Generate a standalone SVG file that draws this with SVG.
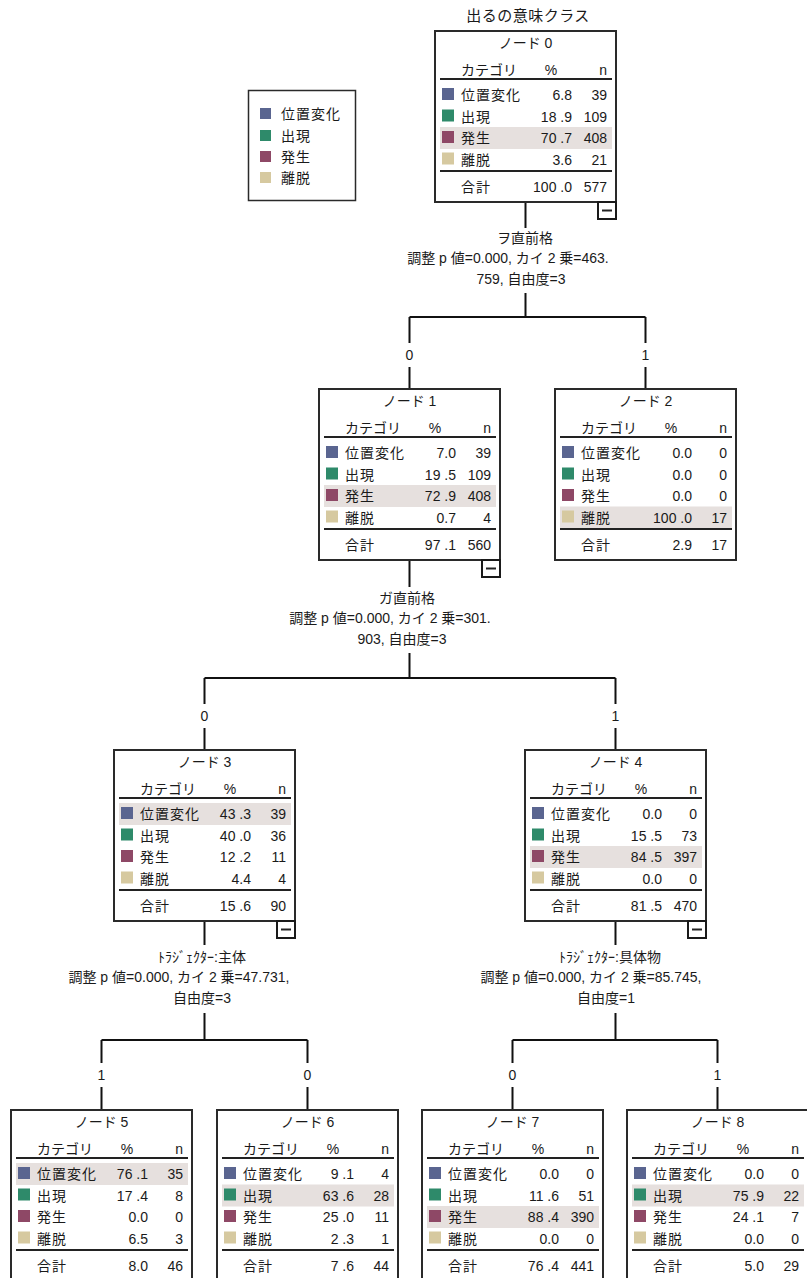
<svg xmlns="http://www.w3.org/2000/svg" width="807" height="1278" viewBox="0 0 807 1278">
<style>
.t{font-family:"Liberation Sans","Noto Sans CJK JP",sans-serif;font-size:14px;fill:#1a1a1a}
.m{text-anchor:middle}
.e{text-anchor:end}
.l{letter-spacing:1px}
.box{fill:#fff;stroke:#2a2a2a;stroke-width:2}
.ln{stroke:#222;stroke-width:2}
.hl{fill:#e6e0de}
.c0{fill:#5a6590}
.c1{fill:#2e8a6a}
.c2{fill:#8e4866}
.c3{fill:#d6c9a0}
.btn{fill:#fff;stroke:#1a1a1a;stroke-width:2}
.conn{stroke:#111;stroke-width:2;fill:none}
</style>
<defs>
<g id="sq">
<rect class="c0" x="7" y="57" width="12" height="12"/>
<rect class="c1" x="7" y="78.5" width="12" height="12"/>
<rect class="c2" x="7" y="100" width="12" height="12"/>
<rect class="c3" x="7" y="121.5" width="12" height="12"/>
</g>
<g id="btn">
<rect class="btn" x="163" y="171" width="18" height="17"/>
<line class="ln" x1="167" y1="179.5" x2="177" y2="179.5"/>
</g>
</defs>

<text class="t m" x="528" y="21" style="font-size:15px;letter-spacing:0.5px">出るの意味クラス</text>

<g id="legend">
<rect x="248.5" y="90.5" width="107" height="110" fill="#fff" stroke="#2a2a2a" stroke-width="1.5"/>
<rect class="c0" x="260" y="108" width="11" height="11"/>
<rect class="c1" x="260" y="130" width="11" height="11"/>
<rect class="c2" x="260" y="151" width="11" height="11"/>
<rect class="c3" x="260" y="172" width="11" height="11"/>
<text class="t l" x="281" y="119">位置変化</text>
<text class="t l" x="281" y="141">出現</text>
<text class="t l" x="281" y="162">発生</text>
<text class="t l" x="281" y="183">離脱</text>
</g>

<g id="connectors">
<path class="conn" d="M525.5 202V228"/>
<path class="conn" d="M525.5 293V317M409.5 317H645.5M409.5 317V343M409.5 367V389M645.5 317V343M645.5 367V389"/>
<path class="conn" d="M409.5 560V587"/>
<path class="conn" d="M409.5 653V678M204.5 678H615.5M204.5 678V704M204.5 728V750M615.5 678V704M615.5 728V750"/>
<path class="conn" d="M204.5 921V945"/>
<path class="conn" d="M204.5 1013V1040M101.5 1040H307.5M101.5 1040V1063M101.5 1087V1110M307.5 1040V1063M307.5 1087V1110"/>
<path class="conn" d="M615.5 921V945"/>
<path class="conn" d="M615.5 1013V1040M512.5 1040H717.5M512.5 1040V1063M512.5 1087V1110M717.5 1040V1063M717.5 1087V1110"/>
<text class="t m" x="525" y="243">ヲ直前格</text>
<text class="t m" x="508" y="263">調整 p 値=0.000, カイ 2 乗=463.</text>
<text class="t m" x="521" y="284">759, 自由度=3</text>
<text class="t m" x="409.5" y="360">0</text>
<text class="t m" x="645.5" y="360">1</text>
<text class="t m" x="407" y="603">ガ直前格</text>
<text class="t m" x="390" y="623">調整 p 値=0.000, カイ 2 乗=301.</text>
<text class="t m" x="402" y="644">903, 自由度=3</text>
<text class="t m" x="204.5" y="721">0</text>
<text class="t m" x="615.5" y="721">1</text>
<text class="t m" x="202" y="962">ﾄﾗｼﾞｪｸﾀｰ:主体</text>
<text class="t m" x="179" y="982">調整 p 値=0.000, カイ 2 乗=47.731,</text>
<text class="t m" x="202" y="1003">自由度=3</text>
<text class="t m" x="101.5" y="1080">1</text>
<text class="t m" x="307.5" y="1080">0</text>
<text class="t m" x="610" y="962">ﾄﾗｼﾞｪｸﾀｰ:具体物</text>
<text class="t m" x="591" y="982">調整 p 値=0.000, カイ 2 乗=85.745,</text>
<text class="t m" x="606" y="1003">自由度=1</text>
<text class="t m" x="512.5" y="1080">0</text>
<text class="t m" x="717.5" y="1080">1</text>
</g>

<g id="node0" transform="translate(435,31)">
<rect class="box" width="181" height="171"/>
<rect class="hl" x="5" y="96" width="172" height="22"/>
<text class="t m" x="90.5" y="17">ノード 0</text>
<text class="t" x="26" y="44">カテゴリ</text><text class="t m" x="116" y="44">%</text><text class="t e" x="172" y="44">n</text>
<line class="ln" x1="5" y1="48" x2="177" y2="48"/>
<use href="#sq"/>
<text class="t l" x="26" y="69">位置変化</text><text class="t e" x="137" y="69">6.8</text><text class="t e" x="172" y="69">39</text>
<text class="t l" x="26" y="90.5">出現</text><text class="t e" x="137" y="90.5">18 .9</text><text class="t e" x="172" y="90.5">109</text>
<text class="t l" x="26" y="112">発生</text><text class="t e" x="137" y="112">70 .7</text><text class="t e" x="172" y="112">408</text>
<text class="t l" x="26" y="133.5">離脱</text><text class="t e" x="137" y="133.5">3.6</text><text class="t e" x="172" y="133.5">21</text>
<line class="ln" x1="5" y1="140" x2="177" y2="140"/>
<text class="t l" x="26" y="161">合計</text><text class="t e" x="137" y="161">100 .0</text><text class="t e" x="172" y="161">577</text>
<use href="#btn"/>
</g>

<g id="node1" transform="translate(319,389)">
<rect class="box" width="181" height="171"/>
<rect class="hl" x="5" y="96" width="172" height="22"/>
<text class="t m" x="90.5" y="17">ノード 1</text>
<text class="t" x="26" y="44">カテゴリ</text><text class="t m" x="116" y="44">%</text><text class="t e" x="172" y="44">n</text>
<line class="ln" x1="5" y1="48" x2="177" y2="48"/>
<use href="#sq"/>
<text class="t l" x="26" y="69">位置変化</text><text class="t e" x="137" y="69">7.0</text><text class="t e" x="172" y="69">39</text>
<text class="t l" x="26" y="90.5">出現</text><text class="t e" x="137" y="90.5">19 .5</text><text class="t e" x="172" y="90.5">109</text>
<text class="t l" x="26" y="112">発生</text><text class="t e" x="137" y="112">72 .9</text><text class="t e" x="172" y="112">408</text>
<text class="t l" x="26" y="133.5">離脱</text><text class="t e" x="137" y="133.5">0.7</text><text class="t e" x="172" y="133.5">4</text>
<line class="ln" x1="5" y1="140" x2="177" y2="140"/>
<text class="t l" x="26" y="161">合計</text><text class="t e" x="137" y="161">97 .1</text><text class="t e" x="172" y="161">560</text>
<use href="#btn"/>
</g>

<g id="node2" transform="translate(555,389)">
<rect class="box" width="181" height="171"/>
<rect class="hl" x="5" y="117.5" width="172" height="22"/>
<text class="t m" x="90.5" y="17">ノード 2</text>
<text class="t" x="26" y="44">カテゴリ</text><text class="t m" x="116" y="44">%</text><text class="t e" x="172" y="44">n</text>
<line class="ln" x1="5" y1="48" x2="177" y2="48"/>
<use href="#sq"/>
<text class="t l" x="26" y="69">位置変化</text><text class="t e" x="137" y="69">0.0</text><text class="t e" x="172" y="69">0</text>
<text class="t l" x="26" y="90.5">出現</text><text class="t e" x="137" y="90.5">0.0</text><text class="t e" x="172" y="90.5">0</text>
<text class="t l" x="26" y="112">発生</text><text class="t e" x="137" y="112">0.0</text><text class="t e" x="172" y="112">0</text>
<text class="t l" x="26" y="133.5">離脱</text><text class="t e" x="137" y="133.5">100 .0</text><text class="t e" x="172" y="133.5">17</text>
<line class="ln" x1="5" y1="140" x2="177" y2="140"/>
<text class="t l" x="26" y="161">合計</text><text class="t e" x="137" y="161">2.9</text><text class="t e" x="172" y="161">17</text>
</g>

<g id="node3" transform="translate(114,750)">
<rect class="box" width="181" height="171"/>
<rect class="hl" x="5" y="53" width="172" height="22"/>
<text class="t m" x="90.5" y="17">ノード 3</text>
<text class="t" x="26" y="44">カテゴリ</text><text class="t m" x="116" y="44">%</text><text class="t e" x="172" y="44">n</text>
<line class="ln" x1="5" y1="48" x2="177" y2="48"/>
<use href="#sq"/>
<text class="t l" x="26" y="69">位置変化</text><text class="t e" x="137" y="69">43 .3</text><text class="t e" x="172" y="69">39</text>
<text class="t l" x="26" y="90.5">出現</text><text class="t e" x="137" y="90.5">40 .0</text><text class="t e" x="172" y="90.5">36</text>
<text class="t l" x="26" y="112">発生</text><text class="t e" x="137" y="112">12 .2</text><text class="t e" x="172" y="112">11</text>
<text class="t l" x="26" y="133.5">離脱</text><text class="t e" x="137" y="133.5">4.4</text><text class="t e" x="172" y="133.5">4</text>
<line class="ln" x1="5" y1="140" x2="177" y2="140"/>
<text class="t l" x="26" y="161">合計</text><text class="t e" x="137" y="161">15 .6</text><text class="t e" x="172" y="161">90</text>
<use href="#btn"/>
</g>

<g id="node4" transform="translate(525,750)">
<rect class="box" width="181" height="171"/>
<rect class="hl" x="5" y="96" width="172" height="22"/>
<text class="t m" x="90.5" y="17">ノード 4</text>
<text class="t" x="26" y="44">カテゴリ</text><text class="t m" x="116" y="44">%</text><text class="t e" x="172" y="44">n</text>
<line class="ln" x1="5" y1="48" x2="177" y2="48"/>
<use href="#sq"/>
<text class="t l" x="26" y="69">位置変化</text><text class="t e" x="137" y="69">0.0</text><text class="t e" x="172" y="69">0</text>
<text class="t l" x="26" y="90.5">出現</text><text class="t e" x="137" y="90.5">15 .5</text><text class="t e" x="172" y="90.5">73</text>
<text class="t l" x="26" y="112">発生</text><text class="t e" x="137" y="112">84 .5</text><text class="t e" x="172" y="112">397</text>
<text class="t l" x="26" y="133.5">離脱</text><text class="t e" x="137" y="133.5">0.0</text><text class="t e" x="172" y="133.5">0</text>
<line class="ln" x1="5" y1="140" x2="177" y2="140"/>
<text class="t l" x="26" y="161">合計</text><text class="t e" x="137" y="161">81 .5</text><text class="t e" x="172" y="161">470</text>
<use href="#btn"/>
</g>

<g id="node5" transform="translate(11,1110)">
<rect class="box" width="181" height="171"/>
<rect class="hl" x="5" y="53" width="172" height="22"/>
<text class="t m" x="90.5" y="17">ノード 5</text>
<text class="t" x="26" y="44">カテゴリ</text><text class="t m" x="116" y="44">%</text><text class="t e" x="172" y="44">n</text>
<line class="ln" x1="5" y1="48" x2="177" y2="48"/>
<use href="#sq"/>
<text class="t l" x="26" y="69">位置変化</text><text class="t e" x="137" y="69">76 .1</text><text class="t e" x="172" y="69">35</text>
<text class="t l" x="26" y="90.5">出現</text><text class="t e" x="137" y="90.5">17 .4</text><text class="t e" x="172" y="90.5">8</text>
<text class="t l" x="26" y="112">発生</text><text class="t e" x="137" y="112">0.0</text><text class="t e" x="172" y="112">0</text>
<text class="t l" x="26" y="133.5">離脱</text><text class="t e" x="137" y="133.5">6.5</text><text class="t e" x="172" y="133.5">3</text>
<line class="ln" x1="5" y1="140" x2="177" y2="140"/>
<text class="t l" x="26" y="161">合計</text><text class="t e" x="137" y="161">8.0</text><text class="t e" x="172" y="161">46</text>
</g>

<g id="node6" transform="translate(217,1110)">
<rect class="box" width="181" height="171"/>
<rect class="hl" x="5" y="74.5" width="172" height="22"/>
<text class="t m" x="90.5" y="17">ノード 6</text>
<text class="t" x="26" y="44">カテゴリ</text><text class="t m" x="116" y="44">%</text><text class="t e" x="172" y="44">n</text>
<line class="ln" x1="5" y1="48" x2="177" y2="48"/>
<use href="#sq"/>
<text class="t l" x="26" y="69">位置変化</text><text class="t e" x="137" y="69">9 .1</text><text class="t e" x="172" y="69">4</text>
<text class="t l" x="26" y="90.5">出現</text><text class="t e" x="137" y="90.5">63 .6</text><text class="t e" x="172" y="90.5">28</text>
<text class="t l" x="26" y="112">発生</text><text class="t e" x="137" y="112">25 .0</text><text class="t e" x="172" y="112">11</text>
<text class="t l" x="26" y="133.5">離脱</text><text class="t e" x="137" y="133.5">2 .3</text><text class="t e" x="172" y="133.5">1</text>
<line class="ln" x1="5" y1="140" x2="177" y2="140"/>
<text class="t l" x="26" y="161">合計</text><text class="t e" x="137" y="161">7 .6</text><text class="t e" x="172" y="161">44</text>
</g>

<g id="node7" transform="translate(422,1110)">
<rect class="box" width="181" height="171"/>
<rect class="hl" x="5" y="96" width="172" height="22"/>
<text class="t m" x="90.5" y="17">ノード 7</text>
<text class="t" x="26" y="44">カテゴリ</text><text class="t m" x="116" y="44">%</text><text class="t e" x="172" y="44">n</text>
<line class="ln" x1="5" y1="48" x2="177" y2="48"/>
<use href="#sq"/>
<text class="t l" x="26" y="69">位置変化</text><text class="t e" x="137" y="69">0.0</text><text class="t e" x="172" y="69">0</text>
<text class="t l" x="26" y="90.5">出現</text><text class="t e" x="137" y="90.5">11 .6</text><text class="t e" x="172" y="90.5">51</text>
<text class="t l" x="26" y="112">発生</text><text class="t e" x="137" y="112">88 .4</text><text class="t e" x="172" y="112">390</text>
<text class="t l" x="26" y="133.5">離脱</text><text class="t e" x="137" y="133.5">0.0</text><text class="t e" x="172" y="133.5">0</text>
<line class="ln" x1="5" y1="140" x2="177" y2="140"/>
<text class="t l" x="26" y="161">合計</text><text class="t e" x="137" y="161">76 .4</text><text class="t e" x="172" y="161">441</text>
</g>

<g id="node8" transform="translate(627,1110)">
<rect class="box" width="181" height="171"/>
<rect class="hl" x="5" y="74.5" width="172" height="22"/>
<text class="t m" x="90.5" y="17">ノード 8</text>
<text class="t" x="26" y="44">カテゴリ</text><text class="t m" x="116" y="44">%</text><text class="t e" x="172" y="44">n</text>
<line class="ln" x1="5" y1="48" x2="177" y2="48"/>
<use href="#sq"/>
<text class="t l" x="26" y="69">位置変化</text><text class="t e" x="137" y="69">0.0</text><text class="t e" x="172" y="69">0</text>
<text class="t l" x="26" y="90.5">出現</text><text class="t e" x="137" y="90.5">75 .9</text><text class="t e" x="172" y="90.5">22</text>
<text class="t l" x="26" y="112">発生</text><text class="t e" x="137" y="112">24 .1</text><text class="t e" x="172" y="112">7</text>
<text class="t l" x="26" y="133.5">離脱</text><text class="t e" x="137" y="133.5">0.0</text><text class="t e" x="172" y="133.5">0</text>
<line class="ln" x1="5" y1="140" x2="177" y2="140"/>
<text class="t l" x="26" y="161">合計</text><text class="t e" x="137" y="161">5.0</text><text class="t e" x="172" y="161">29</text>
</g>
</svg>
